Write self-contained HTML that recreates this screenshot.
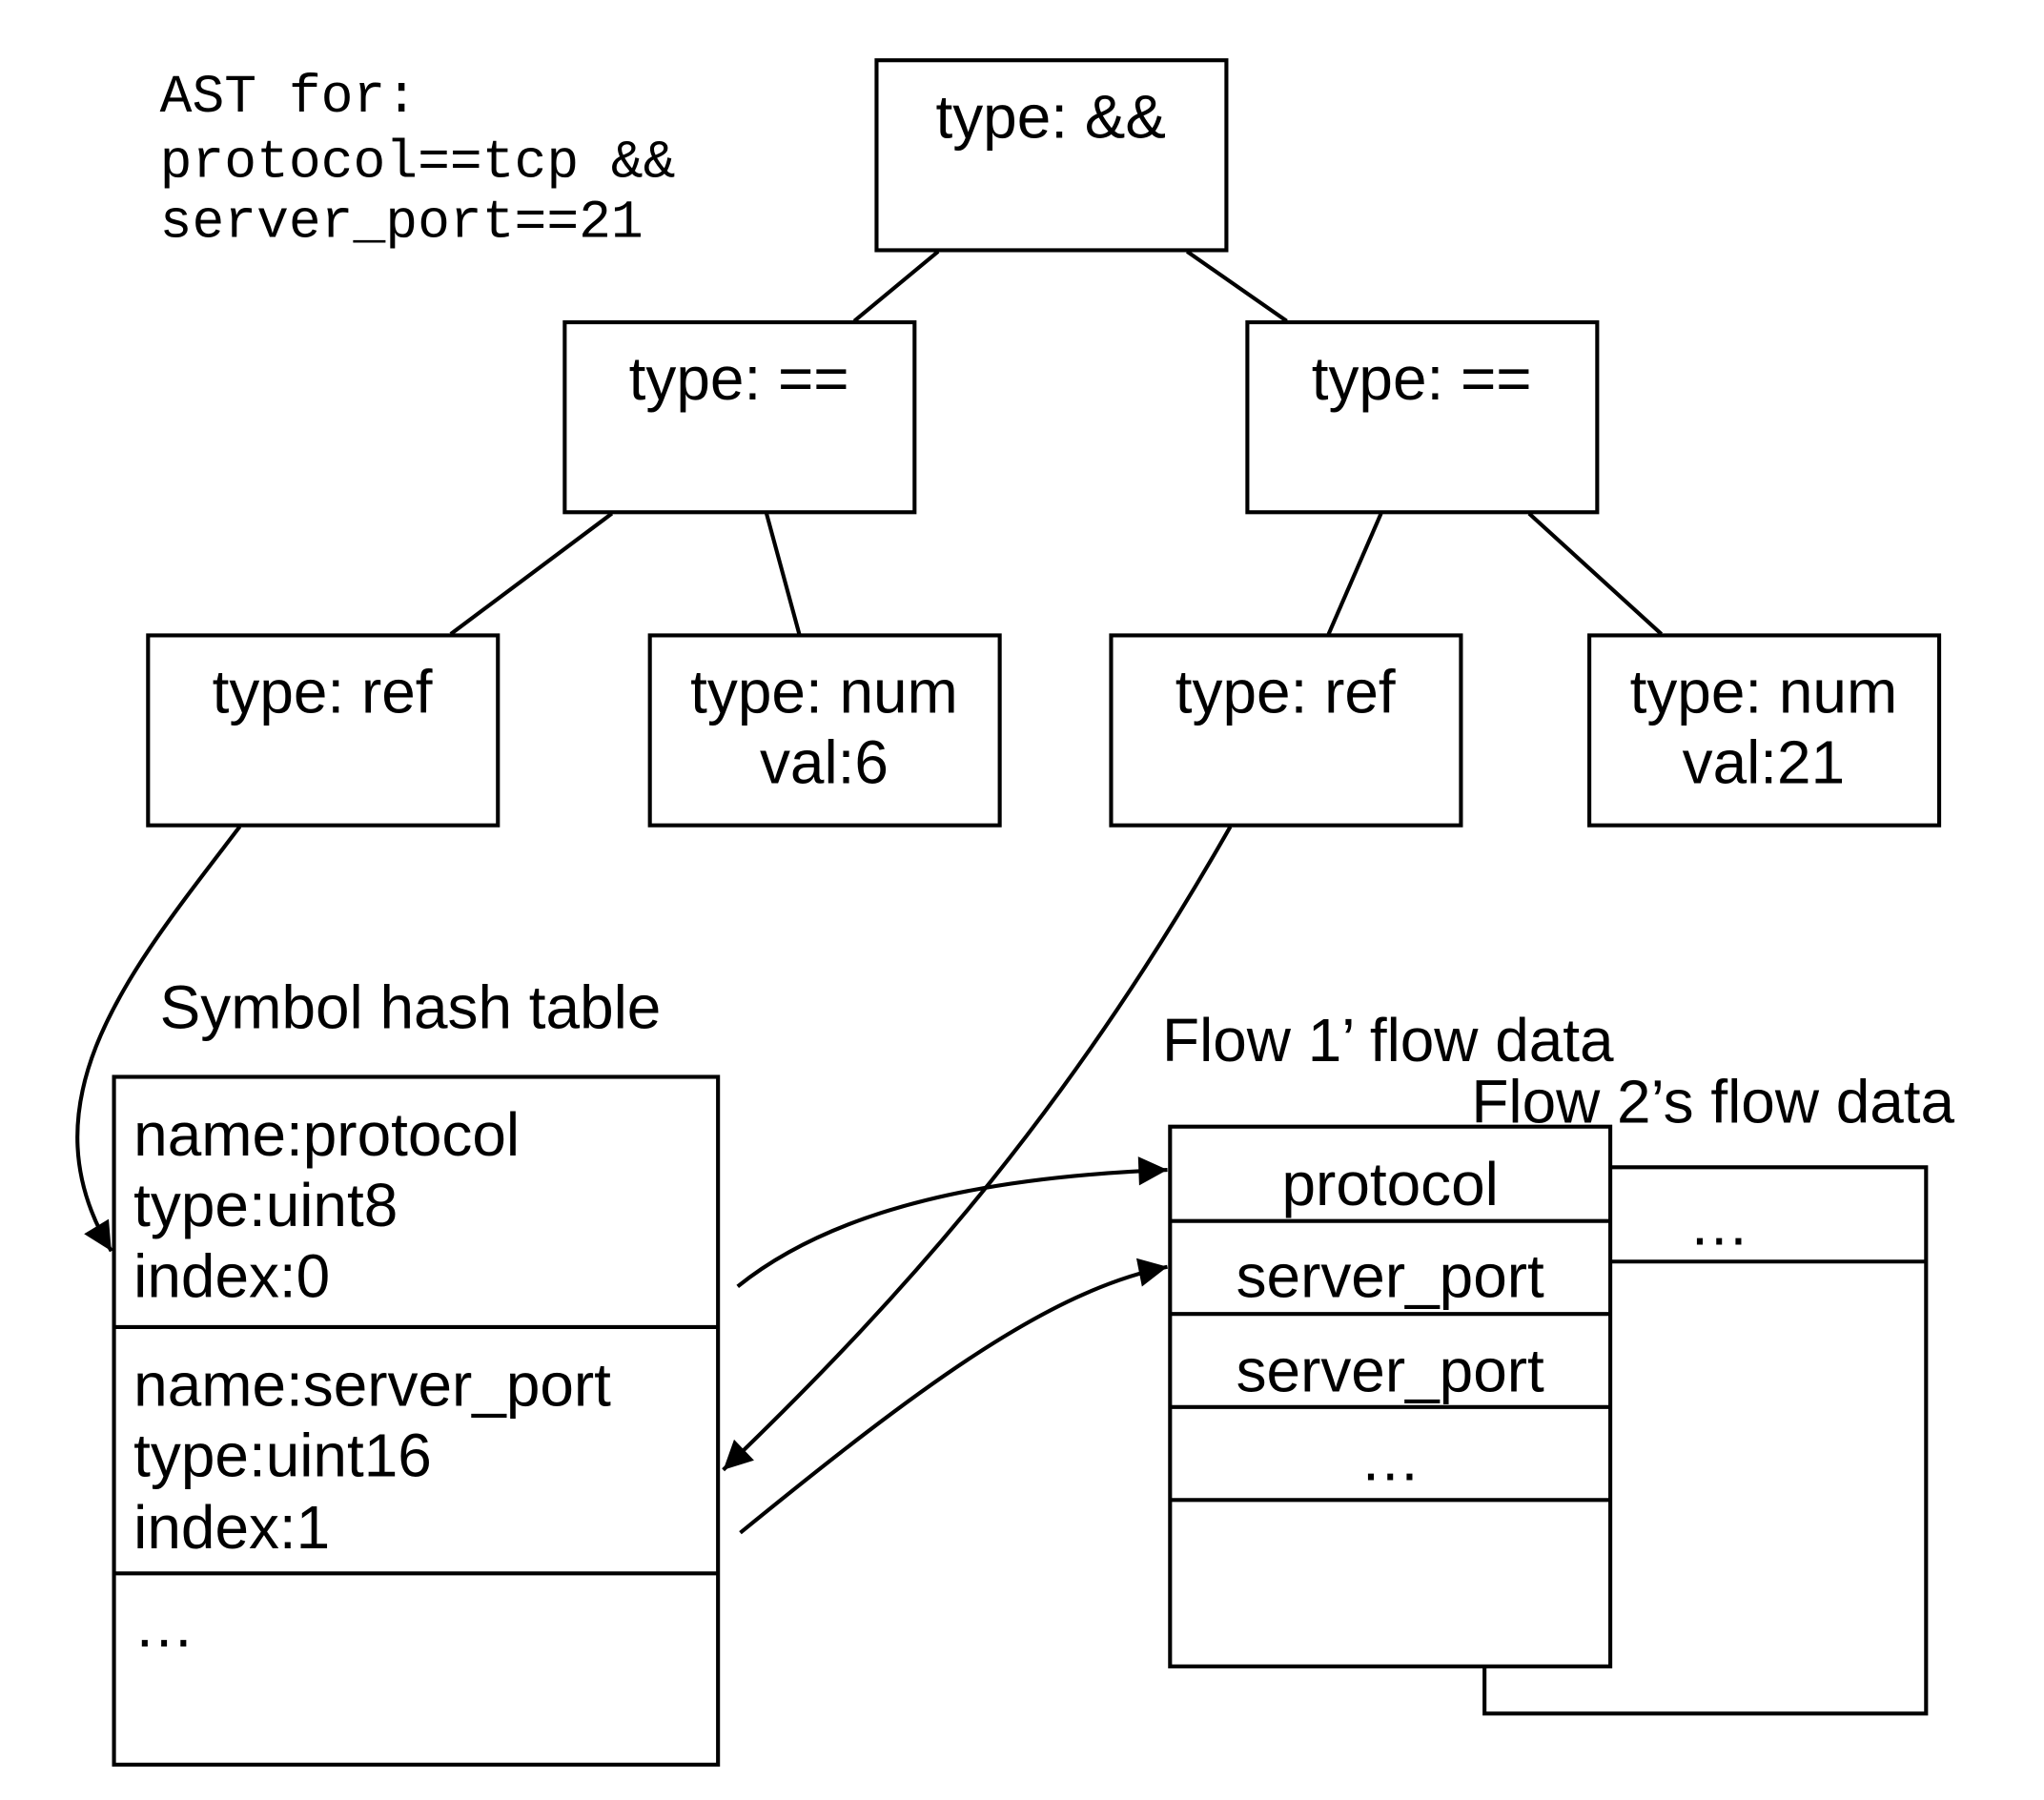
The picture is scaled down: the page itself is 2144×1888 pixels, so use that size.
<!DOCTYPE html>
<html><head><style>html,body{margin:0;padding:0;background:#fff}svg{display:block}</style></head><body>
<svg width="2144" height="1888" viewBox="0 0 1560 1374" preserveAspectRatio="none" xmlns="http://www.w3.org/2000/svg">
<defs>
<marker id="ah" viewBox="0 0 10 10" refX="10" refY="5" markerWidth="28" markerHeight="22" markerUnits="userSpaceOnUse" orient="auto"><path d="M0,0 L10,5 L0,10 z" fill="#000"/></marker></defs>
<g fill="none" stroke="#000" stroke-width="3">
<rect x="669" y="46" width="267" height="145"/>
<rect x="431" y="246" width="267" height="145"/>
<rect x="952" y="246" width="267" height="145"/>
<rect x="113" y="485" width="267" height="145"/>
<rect x="496" y="485" width="267" height="145"/>
<rect x="848" y="485" width="267" height="145"/>
<rect x="1213" y="485" width="267" height="145"/>
<line x1="716" y1="192" x2="652" y2="245"/>
<line x1="906" y1="192" x2="982" y2="245"/>
<line x1="467" y1="392" x2="344" y2="484"/>
<line x1="585" y1="392" x2="610" y2="484"/>
<line x1="1054" y1="392" x2="1014" y2="484"/>
<line x1="1167" y1="392" x2="1268" y2="484"/>
<rect x="87" y="822" width="461" height="525"/>
<line x1="87" y1="1013" x2="548" y2="1013"/>
<line x1="87" y1="1201" x2="548" y2="1201"/>
<path d="M1133,1272 L1133,1308 L1470,1308 L1470,891 L1229,891"/>
<line x1="1229" y1="963" x2="1470" y2="963"/>
<rect x="893" y="860" width="336" height="412" fill="#fff"/>
<line x1="893" y1="932" x2="1229" y2="932"/>
<line x1="893" y1="1003" x2="1229" y2="1003"/>
<line x1="893" y1="1074" x2="1229" y2="1074"/>
<line x1="893" y1="1145" x2="1229" y2="1145"/>
<path d="M183,631 C100,740 15,840 85,955" marker-end="url(#ah)"/>
<path d="M939,631 C820,840 700,980 552,1122" marker-end="url(#ah)"/>
<path d="M563,982 C640,920 760,898 891,893" marker-end="url(#ah)"/>
<path d="M565,1170 C700,1060 800,985 891,967" marker-end="url(#ah)"/>
</g>
<g font-family="Liberation Mono, monospace" font-size="41" fill="#000">
<text x="122" y="85">AST for:</text>
<text x="122" y="135">protocol==tcp &amp;&amp;</text>
<text x="122" y="181">server_port==21</text>
</g>
<g font-family="Liberation Sans, sans-serif" font-size="46.5" fill="#000">
<g text-anchor="middle">
<text x="802" y="105">type: &amp;&amp;</text>
<text x="564" y="305">type: ==</text>
<text x="1085" y="305">type: ==</text>
<text x="246" y="544">type: ref</text>
<text x="629" y="544">type: num</text>
<text x="629" y="598">val:6</text>
<text x="981" y="544">type: ref</text>
<text x="1346" y="544">type: num</text>
<text x="1346" y="598">val:21</text>
<text x="1061" y="920">protocol</text>
<text x="1061" y="990">server_port</text>
<text x="1061" y="1062">server_port</text>
<text x="1061" y="1130">…</text>
<text x="1312" y="950">…</text>
</g>
<text x="122" y="785">Symbol hash table</text>
<text x="887" y="810">Flow 1’ flow data</text>
<text x="1123" y="857">Flow 2’s flow data</text>
<text x="102" y="882">name:protocol</text>
<text x="102" y="936">type:uint8</text>
<text x="102" y="990">index:0</text>
<text x="102" y="1073">name:server_port</text>
<text x="102" y="1127">type:uint16</text>
<text x="102" y="1182">index:1</text>
<text x="102" y="1257">…</text>
</g>
</svg>
</body></html>
